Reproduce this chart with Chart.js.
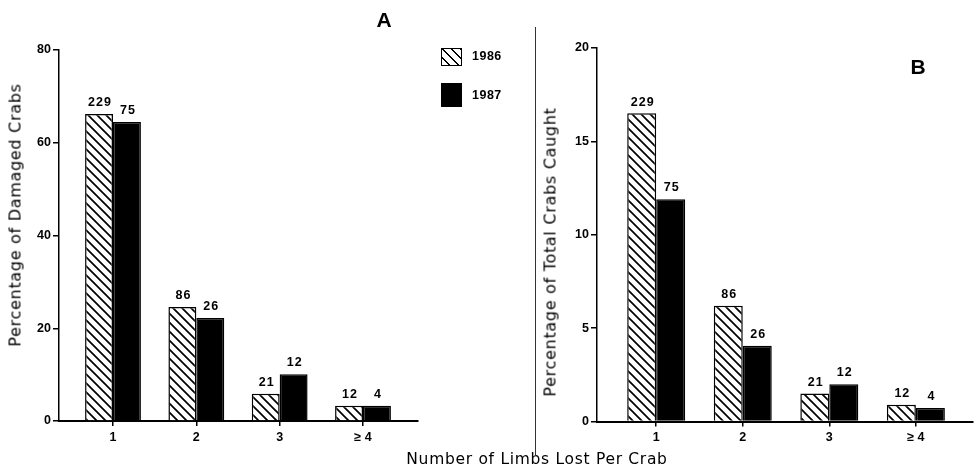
<!DOCTYPE html>
<html>
<head>
<meta charset="utf-8">
<script src="https://cdn.jsdelivr.net/npm/chart.js@4.4.0/dist/chart.umd.min.js"></script>
<style>
  body { margin: 0; background: #fff; }
  #wrap { position: relative; width: 977px; height: 469px; overflow: hidden; font-family: "DejaVu Sans", sans-serif; color: #000; }
  canvas { position: absolute; top: 0; }
  #chartA { left: 0; }
  #chartB { left: 536px; }
  .panel { position: absolute; font: bold 21px "Liberation Sans", Arial, sans-serif; transform: translate(-50%, -50%); }
  .ytitle { position: absolute; font-size: 16px; letter-spacing: 0.7px; white-space: nowrap; transform: translate(-50%, -50%) rotate(-90deg); }
  .xtitle { position: absolute; font-size: 15.5px; letter-spacing: 0.7px; white-space: nowrap; transform: translate(-50%, -50%); }
  .divider { position: absolute; left: 535px; top: 27px; width: 1px; height: 428px; background: #333; }
  .legend { position: absolute; left: 441px; top: 48px; font: bold 12.5px "Liberation Sans", Arial, sans-serif; letter-spacing: 0.5px; }
  .legend .box { position: absolute; left: 0; width: 21px; box-sizing: border-box; }
  .legend .txt { position: absolute; left: 31px; white-space: nowrap; }
</style>
</head>
<body>
<div id="wrap">
  <canvas id="chartA" width="535" height="469"></canvas>
  <canvas id="chartB" width="441" height="469"></canvas>
  <div class="divider"></div>
  <div class="panel" style="left:384px; top:20px;">A</div>
  <div class="panel" style="left:918px; top:67px;">B</div>
  <div class="ytitle" style="left:15px; top:215px;">Percentage of Damaged Crabs</div>
  <div class="ytitle" style="left:550px; top:252px;">Percentage of Total Crabs Caught</div>
  <div class="xtitle" style="left:537px; top:459px;">Number of Limbs Lost Per Crab</div>
  <div class="legend">
    <div class="box" id="legHatch" style="top:0; height:18px; border:1.5px solid #000;"></div>
    <div class="txt" style="top:1px;">1986</div>
    <div class="box" style="top:35px; height:24px; background:#000;"></div>
    <div class="txt" style="top:40px;">1987</div>
  </div>
</div>
<script>
// x categories (number of limbs lost)
const limbLabels = ['1', '2', '3', '\u2265 4'];
// crab counts printed above the bars
const counts1986 = [229, 86, 21, 12];
const counts1987 = [75, 26, 12, 4];
// A: percentage of damaged crabs
const damaged1986 = [66.2, 24.6, 5.9, 3.3];
const damaged1987 = [64.5, 22.2, 10.1, 3.3];
// B: percentage of total crabs caught
const total1986 = [16.5, 6.2, 1.5, 0.9];
const total1987 = [11.9, 4.05, 2.0, 0.72];

const tickFont = { family: '"Liberation Sans", Arial, sans-serif', size: 12.5, weight: 'bold' };

function makeHatch(ctx) {
    const c = document.createElement('canvas');
    c.width = 9; c.height = 9;
    const g = c.getContext('2d');
    g.fillStyle = '#fff';
    g.fillRect(0, 0, 9, 9);
    g.strokeStyle = '#000';
    g.lineWidth = 1.7;
    g.beginPath();
    g.moveTo(-1, -1); g.lineTo(10, 10);
    g.moveTo(-1, 8); g.lineTo(1, 10);
    g.moveTo(8, -1); g.lineTo(10, 1);
    g.stroke();
    return ctx.createPattern(c, 'repeat');
}

document.getElementById('legHatch').style.background =
    'repeating-linear-gradient(45deg, #fff 0px, #fff 4.5px, #000 4.5px, #000 6.36px)';

// draws the counts above each bar
const countLabels = {
    id: 'countLabels',
    afterDatasetsDraw(chart) {
        const ctx = chart.ctx;
        ctx.save();
        ctx.font = 'bold 12.5px "Liberation Sans", Arial, sans-serif';
        ctx.letterSpacing = '1px';
        ctx.fillStyle = '#000';
        ctx.textAlign = 'center';
        ctx.textBaseline = 'bottom';
        chart.data.datasets.forEach((ds, di) => {
            chart.getDatasetMeta(di).data.forEach((bar, i) => {
                ctx.fillText(String(ds.counts[i]), bar.x + 1, bar.y - 5);
            });
        });
        ctx.restore();
    }
};

function renderPanel(id, vals86, vals87, yMax, yStep, xMin, axisWidth, pad, xHeight) {
    const ctx = document.getElementById(id).getContext('2d');
    const toPoints = arr => arr.map((v, i) => ({ x: i + 1, y: v }));
    return new Chart(ctx, {
        type: 'bar',
        data: {
            datasets: [{
                label: '1986',
                data: toPoints(vals86),
                counts: counts1986,
                backgroundColor: makeHatch(ctx),
                borderColor: '#000',
                borderWidth: 1.5,
            }, {
                label: '1987',
                data: toPoints(vals87),
                counts: counts1987,
                backgroundColor: '#000',
                borderColor: '#000',
                borderWidth: 1.5,
            }]
        },
        options: {
            responsive: false,
            animation: false,
            events: [],
            layout: { padding: pad },
            categoryPercentage: 0.67,
            barPercentage: 1.0,
            plugins: {
                legend: { display: false },
                tooltip: { enabled: false }
            },
            scales: {
                x: {
                    type: 'linear',
                    min: xMin,
                    max: 4.66,
                    offset: false,
                    afterBuildTicks: scale => { scale.ticks = [1, 2, 3, 4].map(v => ({ value: v })); },
                    afterFit: scale => { scale.height = xHeight; },
                    ticks: {
                        font: tickFont,
                        color: '#000',
                        padding: 4,
                        maxRotation: 0,
                        callback: v => limbLabels[v - 1]
                    },
                    grid: { offset: false, drawOnChartArea: false, color: '#000', tickLength: 5, lineWidth: 1.5 },
                    border: { color: '#000', width: 2 }
                },
                y: {
                    min: 0,
                    max: yMax,
                    afterFit: scale => { scale.width = axisWidth; },
                    ticks: { stepSize: yStep, font: tickFont, color: '#000', padding: 2 },
                    grid: { drawOnChartArea: false, color: '#000', tickLength: 6, lineWidth: 1.5 },
                    border: { color: '#000', width: 1.5 }
                }
            }
        },
        plugins: [countLabels]
    });
}

renderPanel('chartA', damaged1986, damaged1987, 80, 20, 0.352, 59,
    { top: 50, right: 117, bottom: 0, left: 0 }, 48);
renderPanel('chartB', total1986, total1987, 20, 5, 0.316, 61,
    { top: 48, right: 4, bottom: 0, left: 0 }, 47.5);
</script>
</body>
</html>
